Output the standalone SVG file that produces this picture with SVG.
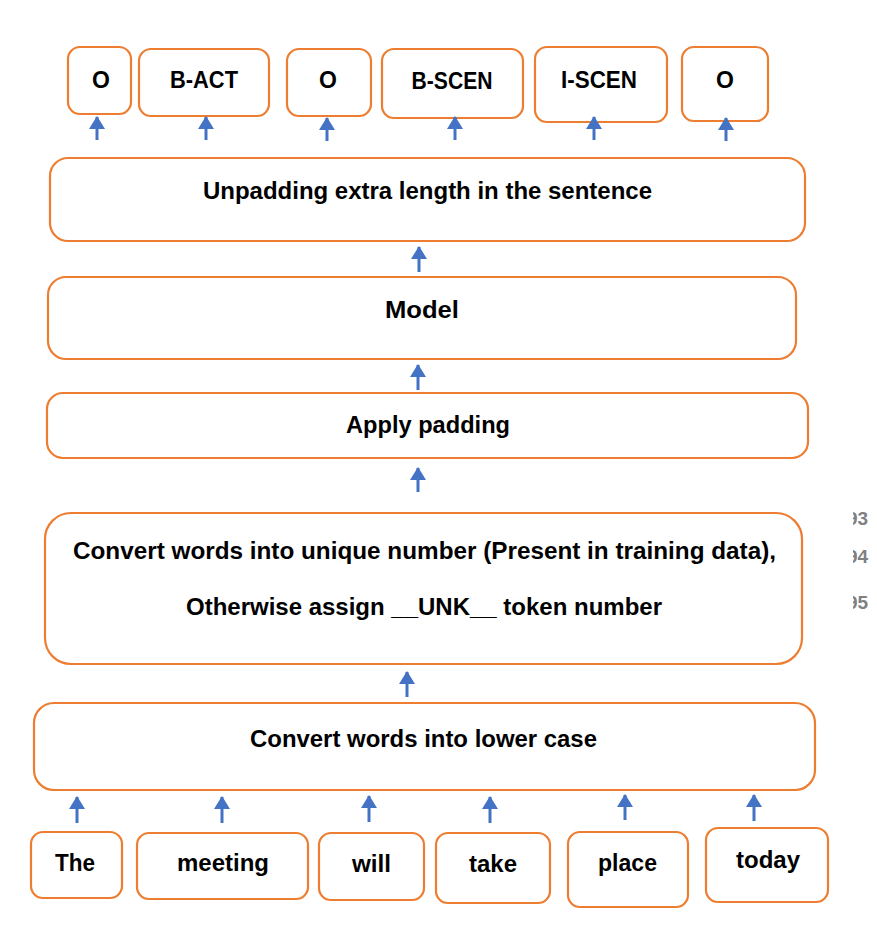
<svg xmlns="http://www.w3.org/2000/svg" width="877" height="945" viewBox="0 0 877 945">
<defs>
<style>
.box{fill:#fff;stroke:#ED7D31;stroke-width:2.2}
.t{font-family:"Liberation Sans",Arial,sans-serif;font-weight:bold;font-size:23px;fill:#000;text-anchor:middle}
.tag{font-family:"Liberation Sans",Arial,sans-serif;font-weight:bold;font-size:23px;fill:#000;text-anchor:middle}
.arr{stroke:#4472C4;stroke-width:3;fill:none;marker-end:url(#ah)}
.ln{font-family:"Liberation Sans",Arial,sans-serif;font-weight:bold;font-size:19px;fill:#808080}
</style>
<marker id="ah" markerUnits="userSpaceOnUse" viewBox="0 0 13 16" refX="12" refY="8" markerWidth="13" markerHeight="16" orient="auto">
<path d="M0,0 L13,8 L0,16 Z" fill="#4472C4"/>
</marker>
<clipPath id="lnclip"><rect x="853" y="490" width="30" height="140"/></clipPath>
</defs>
<rect width="877" height="945" fill="#fff"/>

<g id="tag1"><rect class="box" x="68" y="47" width="63" height="67" rx="12"/><text class="tag" x="101" y="88">O</text></g>
<g id="tag2"><rect class="box" x="139" y="49" width="130" height="67" rx="12"/><text class="tag" x="204" y="88" textLength="68" lengthAdjust="spacingAndGlyphs">B-ACT</text></g>
<g id="tag3"><rect class="box" x="287" y="49" width="84" height="67" rx="12"/><text class="tag" x="328" y="88">O</text></g>
<g id="tag4"><rect class="box" x="382" y="49" width="141" height="69" rx="12"/><text class="tag" x="452" y="89" textLength="81" lengthAdjust="spacingAndGlyphs">B-SCEN</text></g>
<g id="tag5"><rect class="box" x="535" y="47" width="132" height="75" rx="12"/><text class="tag" x="599" y="88" textLength="76" lengthAdjust="spacingAndGlyphs">I-SCEN</text></g>
<g id="tag6"><rect class="box" x="682" y="47" width="86" height="74" rx="12"/><text class="tag" x="725" y="88">O</text></g>

<g id="unpad"><rect class="box" x="50" y="158" width="755" height="83" rx="18"/><text class="t" x="427.5" y="199" textLength="449" lengthAdjust="spacingAndGlyphs">Unpadding extra length in the sentence</text></g>
<g id="model"><rect class="box" x="48" y="277" width="748" height="82" rx="18"/><text class="t" x="422" y="318" textLength="74" lengthAdjust="spacingAndGlyphs">Model</text></g>
<g id="pad"><rect class="box" x="47" y="393" width="761" height="65" rx="16"/><text class="t" x="428" y="433" textLength="164" lengthAdjust="spacingAndGlyphs">Apply padding</text></g>
<g id="convert"><rect class="box" x="45" y="513" width="757" height="151" rx="26"/>
<text class="t" x="424.5" y="559" textLength="703" lengthAdjust="spacingAndGlyphs">Convert words into unique number (Present in training data),</text>
<text class="t" x="424" y="615" textLength="476" lengthAdjust="spacingAndGlyphs">Otherwise assign __UNK__ token number</text></g>
<g id="lower"><rect class="box" x="34" y="703" width="781" height="87" rx="20"/><text class="t" x="423.5" y="747" textLength="347" lengthAdjust="spacingAndGlyphs">Convert words into lower case</text></g>

<g id="w1"><rect class="box" x="31" y="832" width="91" height="66" rx="12"/><text class="tag" x="75" y="871" textLength="40" lengthAdjust="spacingAndGlyphs">The</text></g>
<g id="w2"><rect class="box" x="137" y="833" width="171" height="66" rx="12"/><text class="tag" x="223" y="871" textLength="92" lengthAdjust="spacingAndGlyphs">meeting</text></g>
<g id="w3"><rect class="box" x="319" y="833" width="105" height="67" rx="12"/><text class="tag" x="371.5" y="872" textLength="39" lengthAdjust="spacingAndGlyphs">will</text></g>
<g id="w4"><rect class="box" x="436" y="833" width="114" height="70" rx="12"/><text class="tag" x="493" y="872" textLength="48" lengthAdjust="spacingAndGlyphs">take</text></g>
<g id="w5"><rect class="box" x="568" y="832" width="120" height="75" rx="12"/><text class="tag" x="627.5" y="871" textLength="59" lengthAdjust="spacingAndGlyphs">place</text></g>
<g id="w6"><rect class="box" x="706" y="828" width="122" height="74" rx="12"/><text class="tag" x="768" y="868" textLength="64" lengthAdjust="spacingAndGlyphs">today</text></g>

<g id="connectors">
<line class="arr" x1="97" y1="140" x2="97" y2="117"/>
<line class="arr" x1="206" y1="140" x2="206" y2="117"/>
<line class="arr" x1="327" y1="141" x2="327" y2="118"/>
<line class="arr" x1="455" y1="140" x2="455" y2="117"/>
<line class="arr" x1="594" y1="140" x2="594" y2="117"/>
<line class="arr" x1="726" y1="141" x2="726" y2="118"/>
<line class="arr" x1="419" y1="272" x2="419" y2="247"/>
<line class="arr" x1="418" y1="390" x2="418" y2="365"/>
<line class="arr" x1="418" y1="492" x2="418" y2="468"/>
<line class="arr" x1="407" y1="697" x2="407" y2="672"/>
<line class="arr" x1="77" y1="823" x2="77" y2="797"/>
<line class="arr" x1="222" y1="823" x2="222" y2="797"/>
<line class="arr" x1="369" y1="822" x2="369" y2="796"/>
<line class="arr" x1="490" y1="823" x2="490" y2="797"/>
<line class="arr" x1="625" y1="820" x2="625" y2="795"/>
<line class="arr" x1="754" y1="821" x2="754" y2="795"/>
</g>

<g id="linenums" clip-path="url(#lnclip)">
<text class="ln" x="847" y="525">93</text>
<text class="ln" x="847" y="563">94</text>
<text class="ln" x="847" y="609">95</text>
</g>
</svg>
